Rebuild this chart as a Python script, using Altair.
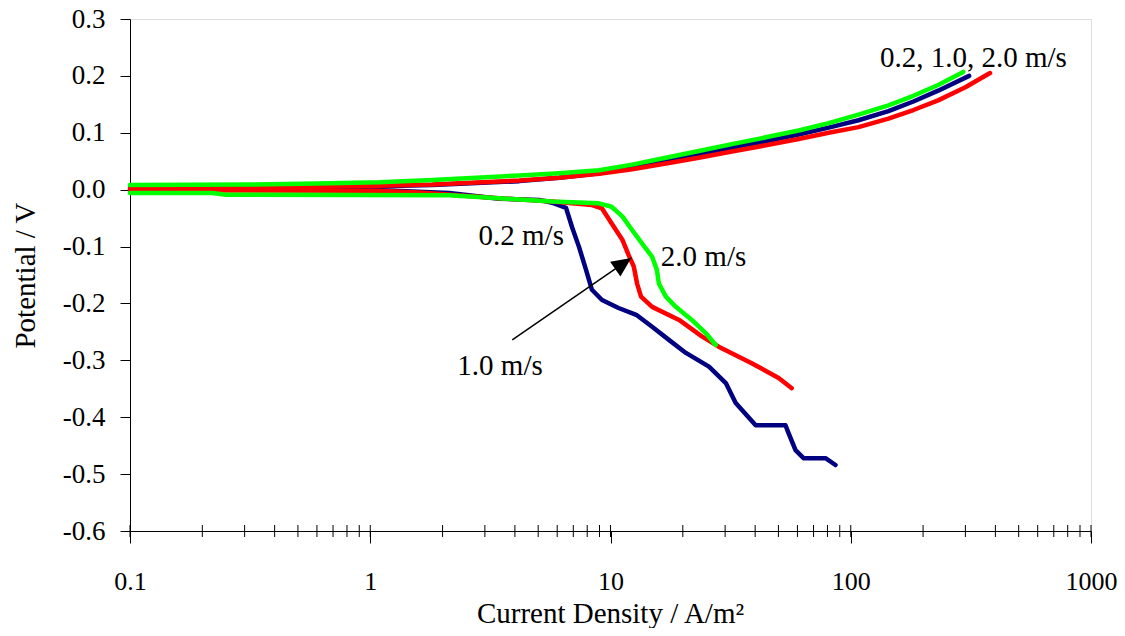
import altair as alt
import pandas as pd

# ---------------- data ----------------
# Anodic branches (upper curves)
blue_an_x = [0.1, 0.315, 0.598, 1.09, 1.815, 4.17, 6.11, 8.96, 12.3, 17.0, 23.3, 32.0, 44.3, 60.7, 80.9, 107.7, 143.5, 182.3, 231, 311]
blue_an_y = [0.001, 0.002, 0.004, 0.006, 0.008, 0.015, 0.021, 0.029, 0.039, 0.050, 0.062, 0.074, 0.085, 0.097, 0.109, 0.122, 0.138, 0.155, 0.174, 0.200]

red_an_x = [0.1, 0.315, 0.598, 1.09, 1.815, 4.17, 6.11, 8.96, 12.3, 17.0, 23.3, 32.0, 44.3, 60.7, 80.9, 107.7, 143.5, 182.3, 231, 300, 380]
red_an_y = [0.003, 0.004, 0.005, 0.007, 0.009, 0.016, 0.021, 0.028, 0.036, 0.046, 0.056, 0.067, 0.078, 0.089, 0.100, 0.110, 0.125, 0.140, 0.157, 0.180, 0.205]

green_an_x = [0.1, 0.315, 0.598, 1.09, 1.815, 4.17, 6.11, 8.96, 12.3, 17.0, 23.3, 32.0, 44.3, 60.7, 80.9, 107.7, 143.5, 182.3, 231, 294]
green_an_y = [0.008, 0.009, 0.011, 0.013, 0.017, 0.025, 0.029, 0.034, 0.044, 0.056, 0.068, 0.080, 0.092, 0.104, 0.117, 0.132, 0.148, 0.165, 0.184, 0.207]

# Cathodic branches (lower curves)
blue_ca_x = [0.1, 0.221, 1.12, 2.13, 3.44, 5.05, 5.71, 6.53, 6.92, 7.40, 7.91, 8.37, 9.22, 10.8, 12.8, 14.9, 17.5, 20.6, 25.7, 30.2, 33.2, 40.2, 53.5, 55.1, 58.9, 63.6, 78.5, 86.4]
blue_ca_y = [0.000, 0.000, -0.001, -0.006, -0.016, -0.018, -0.023, -0.032, -0.066, -0.101, -0.141, -0.176, -0.194, -0.208, -0.220, -0.241, -0.264, -0.287, -0.311, -0.340, -0.375, -0.414, -0.414, -0.428, -0.458, -0.472, -0.472, -0.484]

red_ca_x = [0.1, 1.09, 1.60, 3.44, 5.71, 8.37, 9.22, 10.1, 11.2, 11.9, 12.5, 12.9, 13.4, 14.9, 19.3, 24.0, 28.2, 38.7, 50.1, 56.8]
red_ca_y = [-0.001, -0.002, -0.005, -0.015, -0.021, -0.027, -0.033, -0.059, -0.088, -0.115, -0.135, -0.165, -0.188, -0.206, -0.229, -0.258, -0.276, -0.305, -0.331, -0.349]

green_ca_x = [0.1, 0.221, 0.251, 2.13, 3.44, 5.71, 8.96, 10.1, 11.2, 12.3, 13.5, 14.9, 15.6, 15.9, 17.0, 18.7, 21.8, 24.9, 27.4]
green_ca_y = [-0.006, -0.006, -0.009, -0.010, -0.015, -0.021, -0.024, -0.030, -0.047, -0.071, -0.094, -0.118, -0.141, -0.165, -0.188, -0.206, -0.229, -0.252, -0.273]

series_names = ["0.2 m/s", "1.0 m/s", "2.0 m/s"]
series_colors = ["#000080", "#FF0000", "#00FF00"]

x_ticks = [0.1, 1, 10, 100, 1000]
x_minor = [0.1, 0.2, 0.3, 0.4, 0.5, 0.6, 0.7, 0.8, 0.9,
           1, 2, 3, 4, 5, 6, 7, 8, 9,
           10, 20, 30, 40, 50, 60, 70, 80, 90,
           100, 200, 300, 400, 500, 600, 700, 800, 900, 1000]
y_ticks = [-0.6, -0.5, -0.4, -0.3, -0.2, -0.1, 0.0, 0.1, 0.2, 0.3]

label_texts = ["0.2 m/s", "2.0 m/s", "1.0 m/s", "0.2, 1.0, 2.0 m/s"]
label_x = [4.25, 24.4, 3.47, 324]
label_y = [-0.081, -0.119, -0.31, 0.2315]

arrow_x = [3.9]
arrow_y = [-0.264]
arrow_x2 = [12.2]
arrow_y2 = [-0.12]

# ---------------- tables ----------------
rows = []
for name, branch, xs, ys in [
    ("0.2 m/s", "an", blue_an_x, blue_an_y),
    ("0.2 m/s", "ca", blue_ca_x, blue_ca_y),
    ("1.0 m/s", "an", red_an_x, red_an_y),
    ("1.0 m/s", "ca", red_ca_x, red_ca_y),
    ("2.0 m/s", "an", green_an_x, green_an_y),
    ("2.0 m/s", "ca", green_ca_x, green_ca_y),
]:
    for i, (xv, yv) in enumerate(zip(xs, ys)):
        rows.append({"speed": name, "branch": name + branch, "i": i, "cd": xv, "pot": yv})
df = pd.DataFrame(rows)

FONT = "Liberation Serif"

xscale = alt.Scale(type="log", domain=[0.1, 1000], nice=False)
yscale = alt.Scale(domain=[-0.6, 0.3], nice=False, zero=False)

xaxis = alt.Axis(
    values=x_ticks, labelExpr="toString(datum.value)", grid=False,
    tickSize=12, tickColor="black", domainColor="black",
    labelFont=FONT, labelFontSize=26, labelColor="black", labelPadding=25,
    labelFlush=False,
    title="Current Density / A/m²", titleFont=FONT, titleFontSize=29,
    titleFontWeight="normal", titleColor="black",
    titleX=480, titleY=91, titleAlign="center", titleBaseline="alphabetic",
)
yaxis = alt.Axis(
    values=y_ticks, labelExpr="replace(format(datum.value, '.1f'), '\u2212', '-')",
    grid=False, tickSize=10, tickColor="black", domainColor="black",
    labelFont=FONT, labelFontSize=27, labelColor="black", labelPadding=15,
    title="Potential / V", titleFont=FONT, titleFontSize=29,
    titleFontWeight="normal", titleColor="black",
    titleX=-105, titleY=256, titleAngle=-90, titleAlign="center", titleBaseline="middle",
)

layers = []
for name, col in zip(series_names, series_colors):
    layers.append(
        alt.Chart(df).transform_filter(alt.datum.speed == name)
        .mark_line(color=col, strokeWidth=4.5, strokeCap="round", strokeJoin="round")
        .encode(
            x=alt.X("cd:Q", scale=xscale, axis=xaxis),
            y=alt.Y("pot:Q", scale=yscale, axis=yaxis),
            detail="branch:N",
            order="i:Q",
        )
    )

ticks = alt.Chart(pd.DataFrame({"t": x_minor})).mark_rule(
    color="black", strokeWidth=1, yOffset=-6, y2Offset=6
).encode(
    x=alt.X("t:Q", scale=xscale),
    y=alt.datum(-0.6),
    y2=alt.datum(-0.6),
)

labels = alt.Chart(pd.DataFrame({"txt": label_texts, "lx": label_x, "ly": label_y})).mark_text(
    font=FONT, fontSize=29, color="black", align="center", baseline="middle"
).encode(
    x=alt.X("lx:Q", scale=xscale),
    y=alt.Y("ly:Q", scale=yscale),
    text="txt:N",
)

arrow_df = pd.DataFrame({"ax": arrow_x, "ay": arrow_y, "ax2": arrow_x2, "ay2": arrow_y2})
arrow_line = alt.Chart(arrow_df).mark_rule(color="black", strokeWidth=1.5).encode(
    x=alt.X("ax:Q", scale=xscale), y=alt.Y("ay:Q", scale=yscale),
    x2="ax2:Q", y2="ay2:Q",
)
arrow_head = alt.Chart(arrow_df).mark_point(
    shape="M0,0L-0.46,1L0.46,1Z", filled=True, size=1521, angle=55,
    color="black", opacity=1, strokeWidth=0,
).encode(
    x=alt.X("ax2:Q", scale=xscale), y=alt.Y("ay2:Q", scale=yscale),
)

chart = alt.layer(ticks, *layers, arrow_line, arrow_head, labels).properties(
    width=961, height=512,
    padding={"left": 122, "top": 11, "right": 26, "bottom": 97},
    autosize=alt.AutoSizeParams(type="none"),
).configure_view(stroke="black", strokeWidth=1).configure(background="white")

chart.save("out.html", embed_options={"renderer": "svg", "actions": False})
